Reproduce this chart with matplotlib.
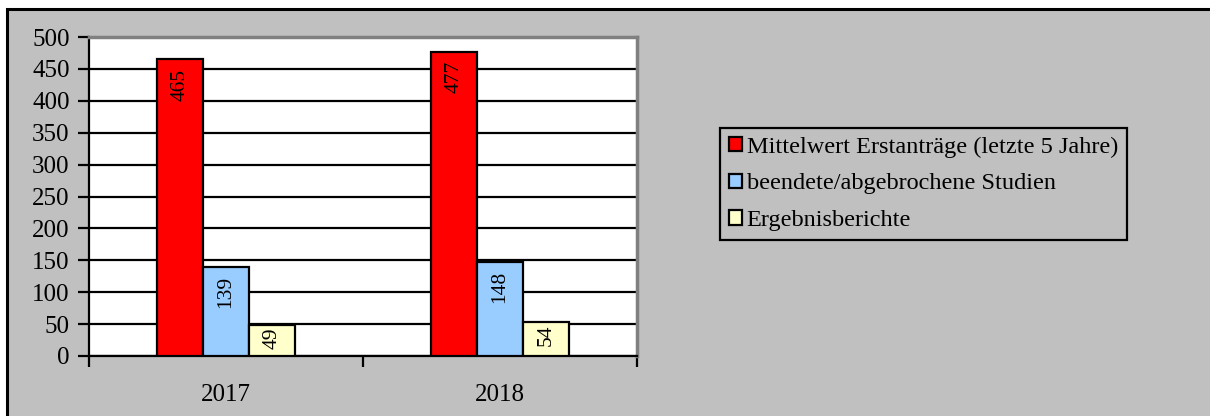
import numpy as np
import matplotlib.pyplot as plt
from matplotlib.patches import Rectangle

plt.rcParams['font.family'] = ['Liberation Serif', 'DejaVu Serif']

#Dati
jahre = ['2017', '2018']
serien = ['Mittelwert Erstanträge (letzte 5 Jahre)', 'beendete/abgebrochene Studien', 'Ergebnisberichte']
mittelwert = [465, 477]
beendet = [139, 148]
berichte = [49, 54]
farben = ['#FF0000', '#99CCFF', '#FFFFCC']

werte = [mittelwert, beendet, berichte]

fig = plt.figure(figsize=(12.1, 4.16), dpi=100)
fig.patch.set_facecolor('white')
#Rahmen um die Grafik (rechts/unten ausserhalb)
fig.patches.append(Rectangle((7/1210, -0.1), 1.2, (416-9)/416 + 0.1, transform=fig.transFigure,
                             facecolor='#C0C0C0', edgecolor='black', linewidth=2.2, zorder=-10))

ax = fig.add_axes([89/1210, 60/416, 548/1210, 319/416])
ax.set_facecolor('white')

px_pro_einheit = 319 / 500  # Pixel pro Wert-Einheit
x = np.arange(len(jahre))
breite = 0.168
for i, (w, f, name) in enumerate(zip(werte, farben, serien)):
    pos = x + (i - 1) * breite
    bars = ax.bar(pos, w, width=breite, color=f, edgecolor='black', linewidth=1.6, label=name, zorder=3)
    for b, v in zip(bars, w):
        abstand = min(9.5, 0.1 * v * px_pro_einheit) * 0.72  # in Punkt
        ax.annotate(str(v), (b.get_x() + b.get_width() / 2, v), xytext=(0, -abstand),
                    textcoords='offset points', rotation=90, ha='center', va='top',
                    fontsize=15.5, zorder=4)

ax.set_xlim(-0.5, 1.5)
ax.set_ylim(0, 500)
ax.set_yticks(np.arange(0, 501, 50))
ax.yaxis.grid(True, color='black', linewidth=1.6, zorder=0)
ax.set_axisbelow(True)

ax.set_xticks([-0.5, 0.5, 1.5])
ax.set_xticklabels([])
ax.set_xticks(x, minor=True)
ax.set_xticklabels(jahre, minor=True, fontsize=18)
ax.tick_params(axis='x', which='minor', length=0, pad=20)
ax.tick_params(axis='x', which='major', length=8, width=1.6, direction='out')
ax.tick_params(axis='y', length=8, width=1.6, direction='out', labelsize=18, pad=6)

ax.spines['left'].set_linewidth(1.6)
ax.spines['bottom'].set_linewidth(1.6)
ax.spines['top'].set_color('#808080')
ax.spines['right'].set_color('#808080')
ax.spines['top'].set_linewidth(2.5)
ax.spines['right'].set_linewidth(2.5)

leg = fig.legend(loc='upper left', bbox_to_anchor=(720/1210, 1 - 128/416), fontsize=17.5,
                 frameon=True, fancybox=False, edgecolor='black', facecolor='#C0C0C0',
                 handlelength=0.55, handleheight=0.55, handletextpad=0.2, labelspacing=0.65,
                 borderpad=0.35, borderaxespad=0)
leg.get_frame().set_linewidth(1.6)
leg.get_frame().set_alpha(None)

fig.savefig('out.png', dpi=100, facecolor=fig.get_facecolor())
